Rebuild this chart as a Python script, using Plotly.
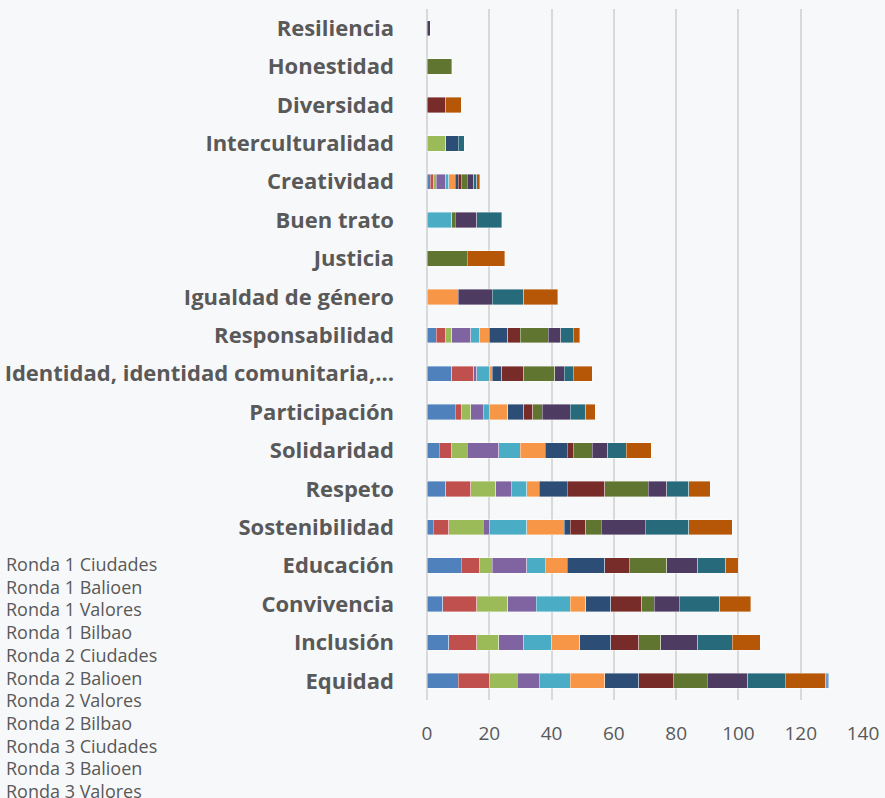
import plotly.graph_objects as go

categories = ["Resiliencia", "Honestidad", "Diversidad", "Interculturalidad", "Creatividad",
              "Buen trato", "Justicia", "Igualdad de género", "Responsabilidad",
              "Identidad, identidad comunitaria,...", "Participación", "Solidaridad",
              "Respeto", "Sostenibilidad", "Educación", "Convivencia", "Inclusión", "Equidad"]

series_names = ["Ronda 1 Ciudades", "Ronda 1 Balioen", "Ronda 1 Valores", "Ronda 1 Bilbao",
                "Ronda 2 Ciudades", "Ronda 2 Balioen", "Ronda 2 Valores", "Ronda 2 Bilbao",
                "Ronda 3 Ciudades", "Ronda 3 Balioen", "Ronda 3 Valores", "Ronda 3 Bilbao",
                "Ronda 4 Ciudades"]

r1_ciudades = [0, 0, 0, 0, 1, 0, 0, 0, 3, 8, 9, 4, 6, 2, 11, 5, 7, 10]
r1_balioen  = [0, 0, 0, 0, 1, 0, 0, 0, 3, 7, 2, 4, 8, 5, 6, 11, 9, 10]
r1_valores  = [0, 0, 0, 6, 1, 0, 0, 0, 2, 0, 3, 5, 8, 11, 4, 10, 7, 9]
r1_bilbao   = [0, 0, 0, 0, 3, 0, 0, 0, 6, 1, 4, 10, 5, 2, 11, 9, 8, 7]
r2_ciudades = [0, 0, 0, 0, 1, 8, 0, 0, 3, 4, 2, 7, 5, 12, 6, 11, 9, 10]
r2_balioen  = [0, 0, 0, 0, 2, 0, 0, 10, 3, 1, 6, 8, 4, 12, 7, 5, 9, 11]
r2_valores  = [0, 0, 0, 4, 1, 0, 0, 0, 6, 3, 5, 7, 9, 2, 12, 8, 10, 11]
r2_bilbao   = [0, 0, 6, 0, 1, 0, 0, 0, 4, 7, 3, 2, 12, 5, 8, 10, 9, 11]
r3_ciudades = [0, 8, 0, 0, 2, 1, 13, 0, 9, 10, 3, 6, 14, 5, 12, 4, 7, 11]
r3_balioen  = [1, 0, 0, 0, 2, 7, 0, 11, 4, 3, 9, 5, 6, 14, 10, 8, 12, 13]
r3_valores  = [0, 0, 0, 2, 1, 8, 0, 10, 4, 3, 5, 6, 7, 14, 9, 13, 11, 12]
r3_bilbao   = [0, 0, 5, 0, 1, 0, 12, 11, 2, 6, 3, 8, 7, 14, 4, 10, 9, 13]
r4_ciudades = [0, 0, 0, 0, 0, 0, 0, 0, 0, 0, 0, 0, 0, 0, 0, 0, 0, 1]

series_values = [r1_ciudades, r1_balioen, r1_valores, r1_bilbao,
                 r2_ciudades, r2_balioen, r2_valores, r2_bilbao,
                 r3_ciudades, r3_balioen, r3_valores, r3_bilbao, r4_ciudades]

colors = ["#4F81BD", "#C0504D", "#9BBB59", "#8064A2", "#4BACC6", "#F79646",
          "#2C4D75", "#772C2A", "#5F7530", "#4D3B62", "#276A7C", "#B65708", "#729ACA"]

x_ticks = [0, 20, 40, 60, 80, 100, 120, 140]

fig = go.Figure()
for name, vals, col in zip(series_names, series_values, colors):
    fig.add_trace(go.Bar(
        y=categories, x=[v if v else None for v in vals], name=name, orientation="h",
        marker=dict(color=col, line=dict(color="rgba(255,255,255,0.55)", width=0.7)),
        showlegend=False,
    ))

W, H = 885, 798
L, R, T, B = 427.3, 22.3, 9, 98
plot_w = W - L - R
plot_h = H - T - B

# legend-like text list (no colour swatches, as in the reference); rows that fall
# below the window in the reference are not shown
for i, name in enumerate(series_names):
    ypix = 564 + i * 22.7
    if ypix > H:
        continue
    fig.add_annotation(
        text=name, xref="paper", yref="paper",
        x=(5 - L) / plot_w, y=(H - B - ypix) / plot_h,
        xanchor="left", yanchor="middle", showarrow=False,
        font=dict(family="Open Sans, sans-serif", size=18, color="#595959"),
    )

fig.update_layout(
    barmode="stack", bargap=0.6,
    width=W, height=H,
    margin=dict(l=L, r=R, t=T, b=B, autoexpand=False),
    paper_bgcolor="#f7f8fa", plot_bgcolor="rgba(0,0,0,0)",
    font=dict(family="Open Sans, sans-serif", color="#595959"),
)
fig.update_xaxes(
    range=[0, 140], tickvals=x_ticks, ticktext=[str(v) for v in x_ticks],
    showgrid=True, gridcolor="#d9d9d9", gridwidth=2, zeroline=True, zerolinecolor="#d9d9d9", zerolinewidth=2,
    ticks="outside", ticklen=16, tickcolor="rgba(0,0,0,0)", ticklabeloverflow="allow",
    tickfont=dict(size=19, color="#595959", family="Open Sans, sans-serif"), showline=False, fixedrange=True,
)
fig.update_yaxes(
    autorange="reversed", type="category",
    tickfont=dict(size=22, color="#595959", family="Open Sans, sans-serif", weight="bold"),
    ticks="", ticklabelstandoff=32, showgrid=False, showline=False, fixedrange=True,
)

fig.write_html("out.html", config={"displayModeBar": False},
               post_script="document.body.style.margin='0';document.body.style.overflow='hidden';")
